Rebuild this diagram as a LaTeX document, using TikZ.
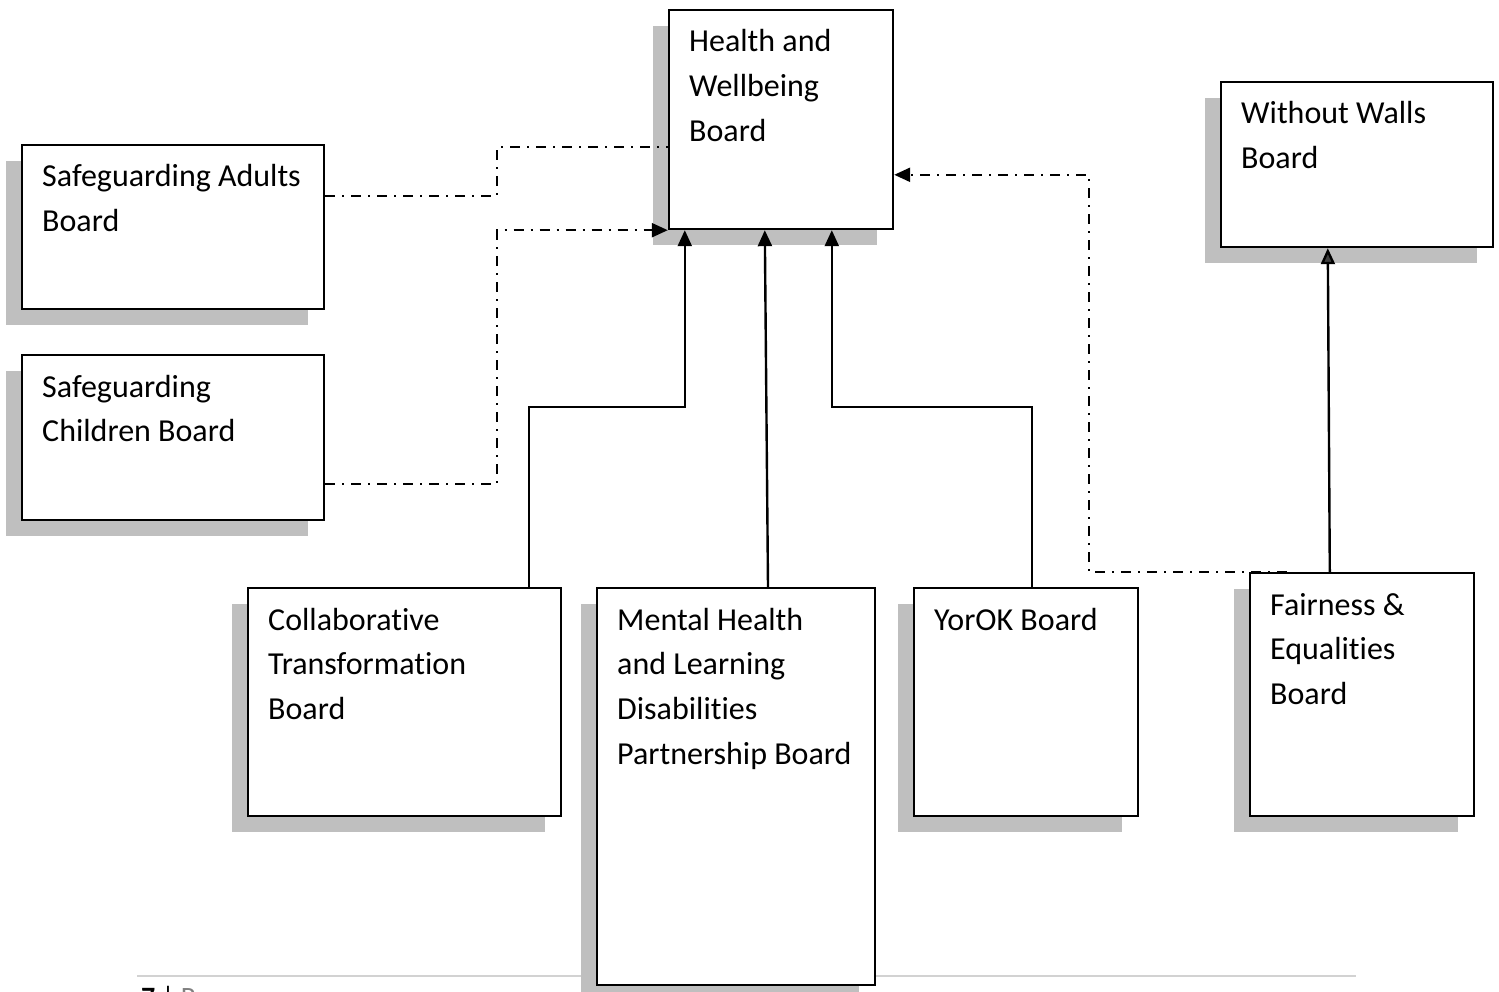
\documentclass[tikz,border=0pt]{standalone}
\usepackage{fontspec}
\setmainfont{Carlito}[Ligatures={NoCommon}]
\usetikzlibrary{arrows.meta,fit}
\definecolor{shadowgray}{RGB}{191,191,191}
\definecolor{footgray}{RGB}{210,210,210}
\newcommand\boardlines[1]{\vtop{\baselineskip=44.7pt\lineskiplimit=-100pt\halign{##\hfil\cr#1\crcr}}}
\newcommand\board[6]{%
  \fill[shadowgray] (#2-16,#3+16) rectangle (#4-16,#5+16);
  \node[boxstyle,fit={(#2,#3)(#4,#5)}] (#1) {};
  \node[txt] (#1-text) at (#2+20,#3+42) {\boardlines{#6}};
}
\begin{document}
\begin{tikzpicture}[x=1pt,y=-1pt,
  boxstyle/.style={draw=black,line width=2.4pt,fill=white,inner sep=0pt},
  txt/.style={anchor=base west,inner sep=0pt,font=\fontsize{32}{44.7}\selectfont},
  conn/.style={line width=2.4pt},
  dd/.style={line width=2.4pt,dash pattern=on 10pt off 7pt on 2pt off 7pt},
  tip/.style={-{Triangle[length=16pt,width=14pt]}}]
\fill[white] (0,0) rectangle (1499,992);
\useasboundingbox (0,0) rectangle (1499,992);
% footer
\draw[footgray,line width=2pt] (137,976) -- (1356,976);
\node[anchor=base west,inner sep=0pt,font=\fontsize{28}{32}\selectfont] (footer) at (141,1006) {\textbf{7} | {\color{gray}Page}};
% boards
\board{hwb}{669}{10}{893}{229}{Health and\cr Wellbeing\cr Board}
\board{sab}{22}{145}{324}{309}{Safeguarding Adults\cr Board}
\board{scb}{22}{355}{324}{520}{Safeguarding\cr Children Board}
\board{wwb}{1221}{82}{1493}{247}{Without Walls\cr Board}
\board{ctb}{248}{588}{561}{816}{Collaborative\cr Transformation\cr Board}
\board{mhld}{597}{588}{875}{985}{Mental Health\cr and Learning\cr Disabilities\cr Partnership Board}
\board{yorok}{914}{588}{1138}{816}{YorOK Board}
\board{feb}{1250}{573}{1474}{816}{Fairness \&\cr Equalities\cr Board}
% connectors
\draw[dd] ([yshift=-52pt]sab.north east) -- ++(172,0) |- ([yshift=-138pt]hwb.north west);
\draw[dd,tip] ([yshift=-130pt]scb.north east) -- ++(172,0) |- (hwb.south west);
\draw[conn,tip] ([xshift=-33pt]ctb.north east) -- ++(0,-180) -| ([xshift=17pt]hwb.south west);
\draw[conn,tip] ([xshift=32pt]mhld.north) -- ([xshift=97pt]hwb.south west);
\draw[conn,tip] ([xshift=6pt]yorok.north) -- ++(0,-180) -| ([xshift=164pt]hwb.south west);
\draw[dd,tip] ([xshift=38pt]feb.north west) -- ++(-198,0) |- ([yshift=-166pt]hwb.north east);
\draw[conn,-{Triangle[length=16pt,width=14pt,fill=black!75]}] ([xshift=81pt]feb.north west) -- ([xshift=108pt]wwb.south west);
\end{tikzpicture}
\end{document}
